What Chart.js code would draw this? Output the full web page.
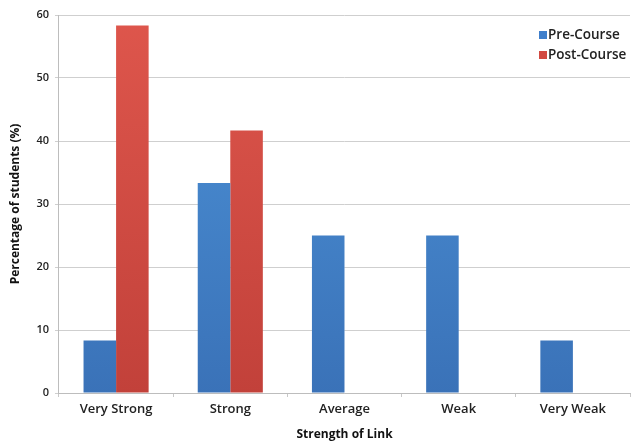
<!DOCTYPE html>
<html>
<head>
<meta charset="utf-8">
<script src="https://cdn.jsdelivr.net/npm/chart.js@4"></script>
<style>
  html, body { margin: 0; padding: 0; background: #fff; }
  #wrap { width: 631px; height: 442px; position: relative; }
</style>
</head>
<body>
<div id="wrap"><canvas id="c"></canvas></div>
<script>
// Strength of link between course concepts, before and after the course
const categories = ['Very Strong', 'Strong', 'Average', 'Weak', 'Very Weak'];
const preCourse  = [8.33, 33.33, 25, 25, 8.33];
const postCourse = [58.33, 41.67, 0, 0, 0];
const yTicks = [0, 10, 20, 30, 40, 50, 60];

const FONT = '"Open Sans", sans-serif';

function barGradient(ctx, dark, light) {
  const { chart } = ctx;
  const area = chart.chartArea;
  if (!area) return dark;
  const g = chart.ctx.createLinearGradient(0, area.top, 0, area.bottom);
  g.addColorStop(0, light);
  g.addColorStop(1, dark);
  return g;
}

// Legend drawn inside the plot, top-right, stacked vertically
const cornerLegend = {
  id: 'cornerLegend',
  afterDraw(chart) {
    const c = chart.ctx;
    const x = 539, y0 = 35, step = 20;
    c.save();
    c.font = '600 13.5px ' + FONT;
    c.textBaseline = 'middle';
    chart.data.datasets.forEach((ds, i) => {
      const y = y0 + i * step;
      c.fillStyle = ds.legendColor;
      c.fillRect(x, y - 4, 8, 8);
      c.fillStyle = '#222';
      c.fillText(ds.label, x + 9, y);
    });
    c.restore();
  }
};

new Chart(document.getElementById('c'), {
  type: 'bar',
  data: {
    labels: categories,
    datasets: [
      {
        label: 'Pre-Course',
        data: preCourse,
        legendColor: '#3f7fcb',
        backgroundColor: ctx => barGradient(ctx, '#3a72b8', '#4d93d8'),
        borderWidth: 0
      },
      {
        label: 'Post-Course',
        data: postCourse,
        legendColor: '#d24a42',
        backgroundColor: ctx => barGradient(ctx, '#c2413a', '#de564c'),
        borderWidth: 0
      }
    ]
  },
  options: {
    responsive: true,
    maintainAspectRatio: false,
    animation: false,
    layout: { padding: { top: 15, right: 1, left: 8, bottom: 0 } },
    datasets: {
      bar: { barPercentage: 1.0, categoryPercentage: 0.57 }
    },
    plugins: {
      legend: { display: false },
      tooltip: { enabled: false }
    },
    scales: {
      x: {
        grid: {
          display: true,
          drawOnChartArea: false,
          drawTicks: true,
          tickLength: 4,
          offset: true,
          color: '#c8c8c8'
        },
        border: { color: '#bdbdbd' },
        ticks: {
          color: '#222',
          font: { family: FONT, size: 13, weight: '600' },
          padding: 4
        },
        title: {
          display: true,
          text: 'Strength of Link',
          color: '#111',
          font: { family: FONT, size: 12, weight: 'bold' },
          padding: { top: 7, bottom: 0 }
        }
      },
      y: {
        min: 0,
        max: 60,
        afterBuildTicks: axis => { axis.ticks = yTicks.map(v => ({ value: v })); },
        grid: {
          color: '#cfcfcf',
          drawTicks: true,
          tickLength: 4
        },
        border: { color: '#bdbdbd' },
        ticks: {
          color: '#222',
          font: { family: FONT, size: 11, weight: '600' },
          padding: 6
        },
        title: {
          display: true,
          text: 'Percentage of students (%)',
          color: '#111',
          font: { family: FONT, size: 12, weight: 'bold' },
          padding: { top: 0, bottom: 8 }
        }
      }
    }
  },
  plugins: [cornerLegend]
});
</script>
</body>
</html>
